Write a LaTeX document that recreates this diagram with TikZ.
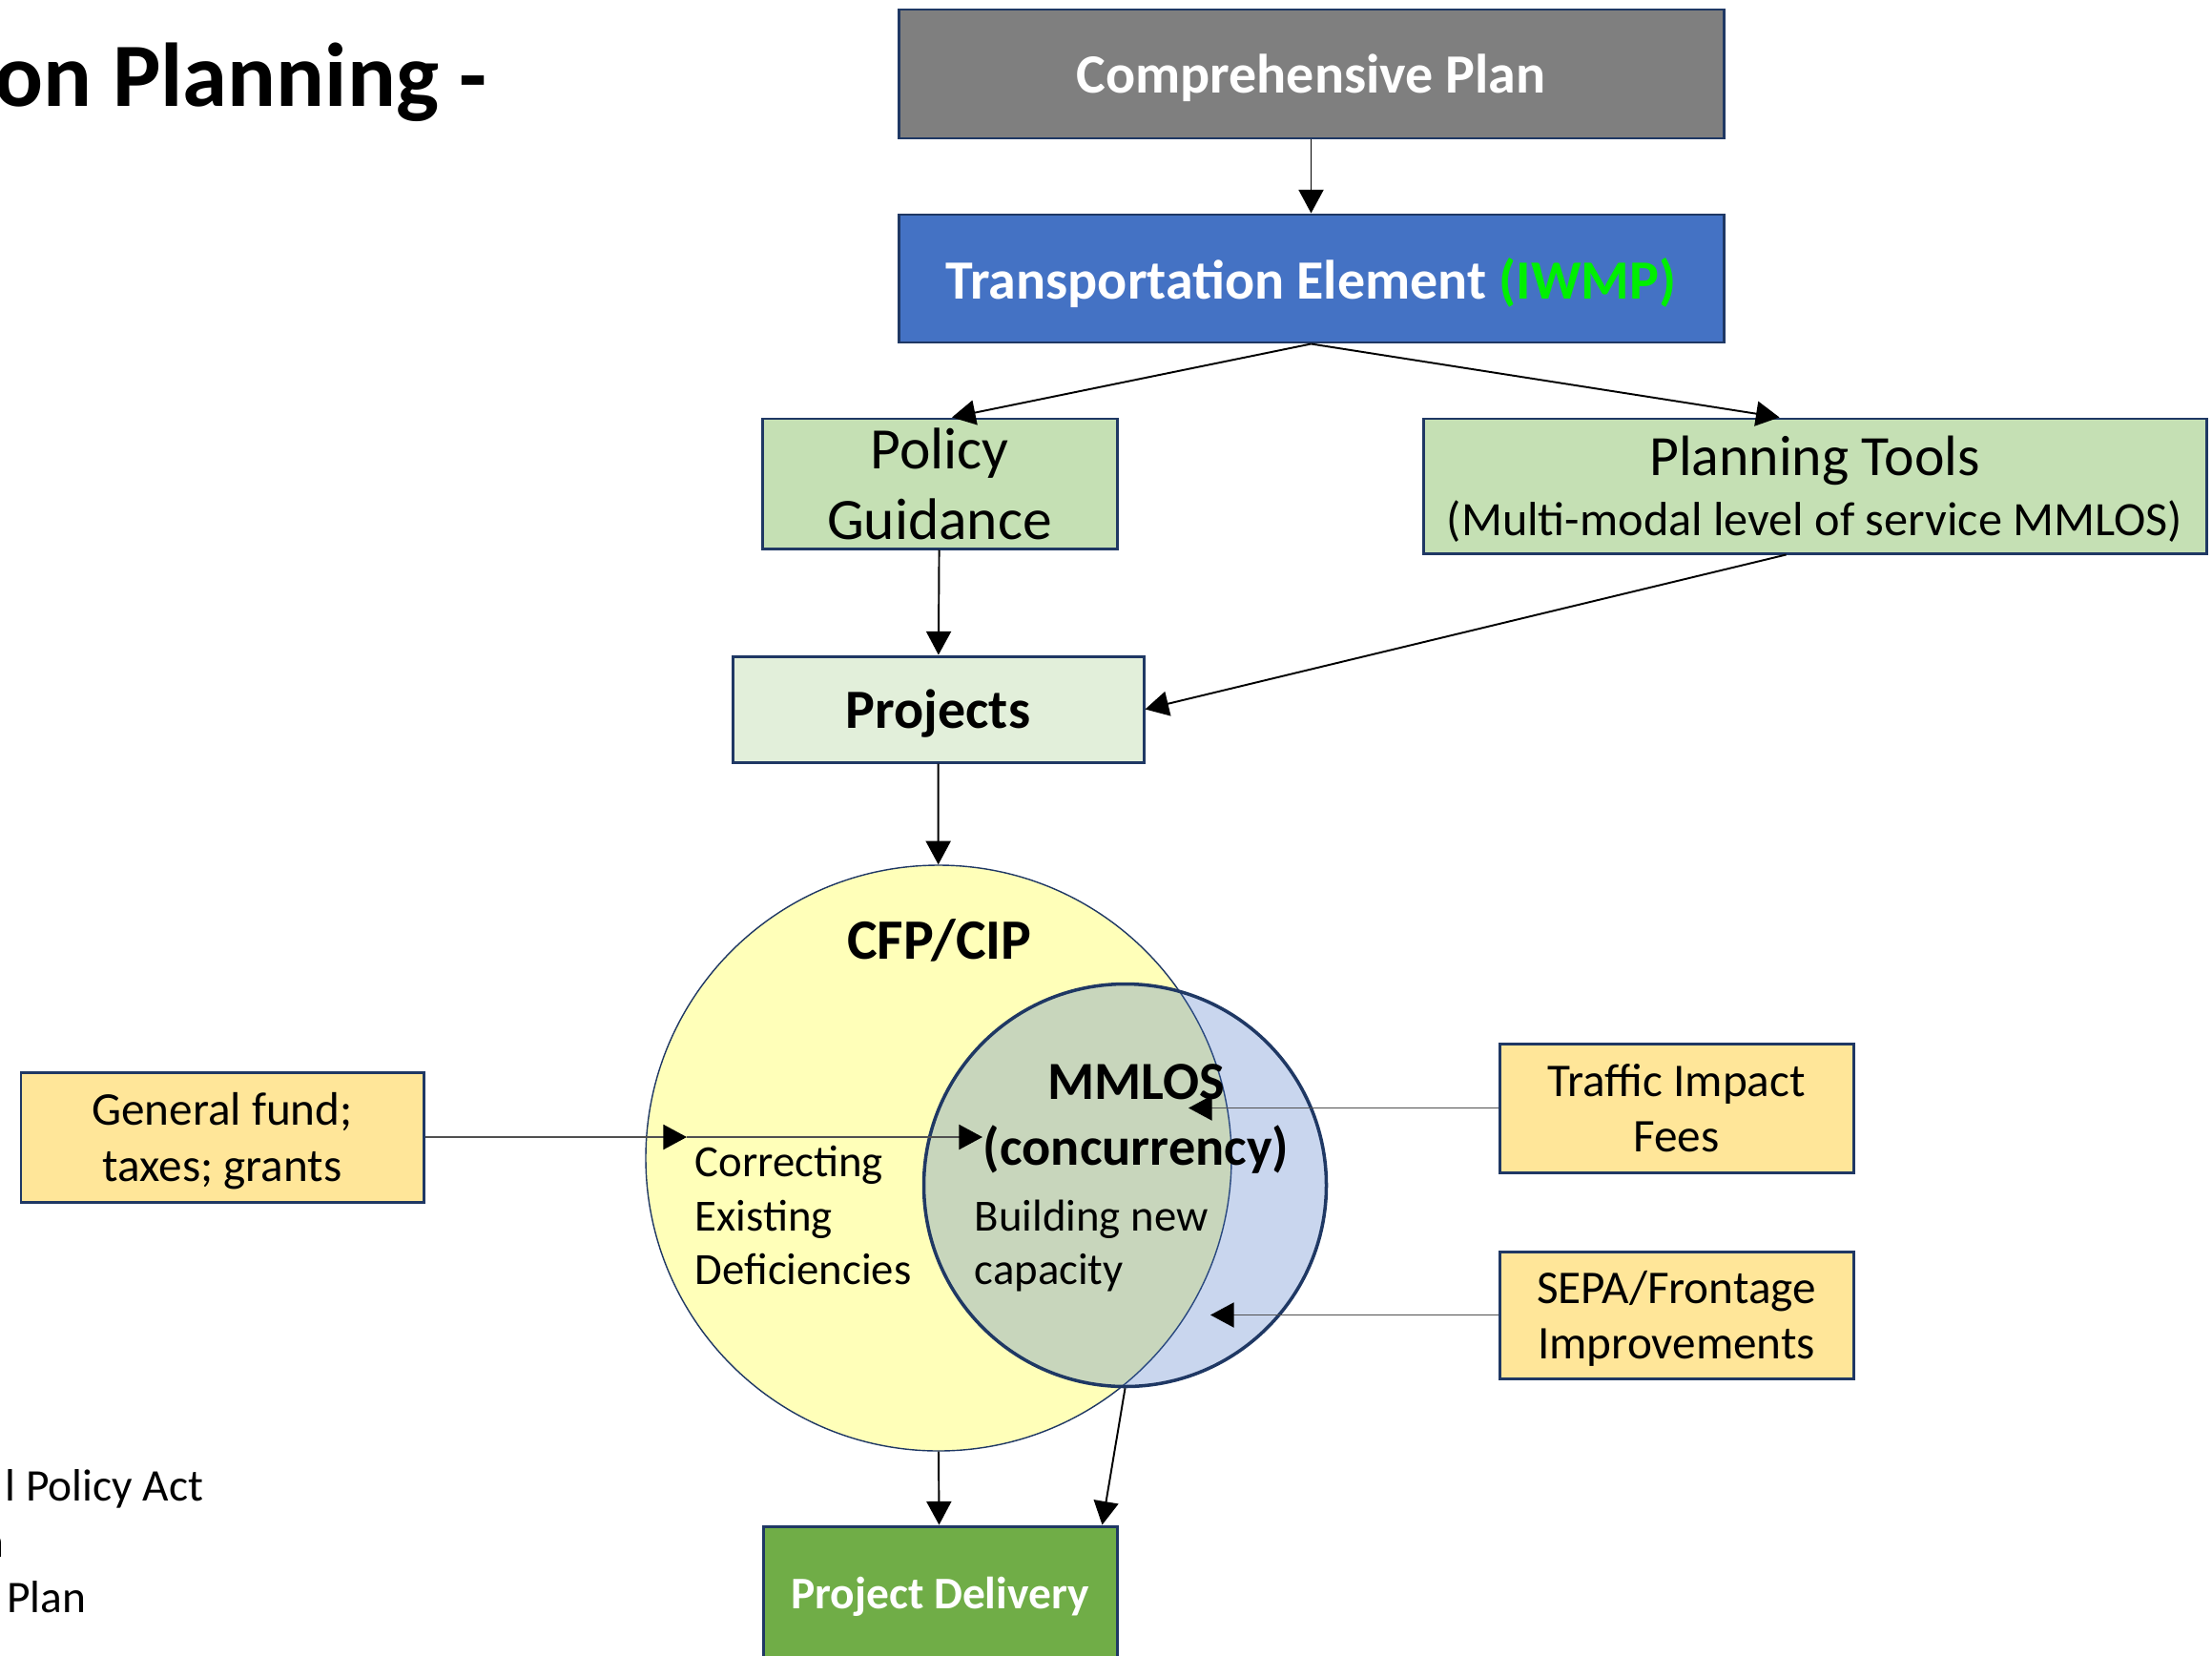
\documentclass[tikz,border=0pt]{standalone}
\usepackage{fontspec}
\setmainfont{Carlito}
\usetikzlibrary{arrows.meta, positioning}

\definecolor{navy}{RGB}{31,56,100}
\definecolor{planGray}{RGB}{127,127,127}
\definecolor{elemBlue}{RGB}{68,114,196}
\definecolor{iwmpGreen}{RGB}{0,240,0}
\definecolor{toolGreen}{RGB}{197,224,180}
\definecolor{projGreen}{RGB}{226,239,218}
\definecolor{fundGold}{RGB}{255,230,153}
\definecolor{cfpYellow}{RGB}{255,255,185}
\definecolor{delivGreen}{RGB}{112,173,71}
\definecolor{feedGray}{RGB}{80,80,80}

\newcommand{\sized}[2]{\fontsize{#1}{#2}\selectfont}

\tikzset{
  box/.style={draw=navy, line width=0.85pt, inner sep=0pt, align=center},
  label/.style={inner sep=0pt},
  link/.style={-{Triangle[length=7pt,width=7.4pt]}, line width=0.55pt, black},
  feed/.style={-{Triangle[length=7pt,width=7.4pt,color=black]}, line width=0.55pt, feedGray},
}

\begin{document}
\begin{tikzpicture}
\useasboundingbox (0,0) rectangle (23.19,-17.35);

% The title and the notes on the left
\node [label, anchor=base east, font=\sized{27pt}{32pt}\bfseries] (title) at (5.11,-1.12) {on Planning -};
\node [label, anchor=base east, font=\sized{13.5pt}{16pt}] (noteA) at (2.14,-15.73) {l Policy Act};
\node [label, anchor=base east, font=\sized{13.5pt}{16pt}] (noteB) at (0.05,-16.32) {n};
\node [label, anchor=base east, font=\sized{13.5pt}{16pt}] (noteC) at (0.91,-16.90) {Plan};

% The plan chain
\node [box, fill=planGray, text=white, text depth=0pt, minimum width=8.65cm, minimum height=1.35cm,
       font=\sized{16.5pt}{20pt}\bfseries] (cplan) at (13.745,-0.775) {Comprehensive Plan};
\node [box, fill=elemBlue, text=white, text depth=0pt, minimum width=8.65cm, minimum height=1.34cm,
       font=\sized{16.5pt}{20pt}\bfseries] (telem) at (13.745,-2.92) {Transportation Element \textcolor{iwmpGreen}{(IWMP)}};
\node [box, fill=toolGreen, minimum width=3.72cm, minimum height=1.36cm,
       font=\sized{17.5pt}{21pt}] (policy) at (9.85,-5.07) {Policy\\Guidance};
\node [box, fill=toolGreen, text depth=0pt, minimum width=8.21cm, minimum height=1.41cm,
       font=\sized{17pt}{20pt}] (tools) at (19.025,-5.095) {Planning Tools\\[-2pt]{\sized{14.3pt}{17pt}(Multi-modal level of service MMLOS)}};
\node [box, fill=projGreen, text depth=0pt, minimum width=4.31cm, minimum height=1.11cm,
       font=\sized{16.5pt}{20pt}\bfseries] (projects) at (9.835,-7.435) {Projects};

% The two funds
\node [circle, draw=navy, line width=0.4pt, fill=cfpYellow, minimum size=6.14cm, inner sep=0pt] (cfp) at (9.84,-12.14) {};
\node [circle, draw=navy, line width=1pt, fill=elemBlue, fill opacity=0.29, minimum size=4.22cm, inner sep=0pt] (mmlos) at (11.795,-12.425) {};

\node [label, anchor=base, font=\sized{17pt}{20pt}\bfseries] (cfplabel) at (9.85,-10.05) {CFP/CIP};
\node [label, align=center, font=\sized{16pt}{19.5pt}\bfseries] (mmloslabel) at (11.91,-11.73) {MMLOS\\(concurrency)};
\node [label, anchor=west, align=left, font=\sized{13.3pt}{16.2pt}] (correcting) at (7.28,-12.74) {Correcting\\Existing\\Deficiencies};
\node [label, anchor=west, align=left, font=\sized{13.3pt}{16.2pt}] (building) at (10.21,-13.06) {Building new\\capacity};

% Sources of money
\node [box, fill=fundGold, text depth=0pt, minimum width=4.22cm, minimum height=1.36cm,
       font=\sized{14pt}{17pt}] (fund) at (2.33,-11.92) {General fund;\\taxes; grants};
\node [box, fill=fundGold, minimum width=3.71cm, minimum height=1.35cm,
       font=\sized{14pt}{16.4pt}] (fees) at (17.575,-11.615) {Traffic Impact\\Fees};
\node [box, fill=fundGold, text depth=0pt, minimum width=3.71cm, minimum height=1.33cm,
       font=\sized{14pt}{16.4pt}] (sepa) at (17.575,-13.785) {SEPA/Frontage\\Improvements};

\node [box, fill=delivGreen, text=white, text depth=0pt, minimum width=3.71cm, minimum height=1.40cm,
       font=\sized{13.5pt}{16pt}\bfseries] (delivery) at (9.855,-16.70) {Project Delivery};

% Links
\draw [link] (cplan) -- (telem);
\draw [link] (telem.south) -- ([xshift=0.13cm]policy.north);
\draw [link] (telem.south) -- ([xshift=-0.37cm]tools.north);
\draw [link] (policy) -- (projects);
\draw [link] ([xshift=-0.30cm]tools.south) -- (projects.east);
\draw [link] (projects) -- (cfp);
\draw [link] (cfp.south) -- ([xshift=-0.01cm]delivery.north);
\draw [link] (mmlos.south) -- ([xshift=1.70cm]delivery.north);

% Money in
\coordinate (fundtip) at (7.20,-11.92);
\coordinate (fundend) at (10.30,-11.92);
\coordinate (feestip) at (12.46,-11.615);
\coordinate (sepatip) at (12.69,-13.785);
\draw [feed] (fund.east) -- (fundtip);
\draw [feed] (fundtip) -- (fundend);
\draw [feed] (fees.west) -- (feestip);
\draw [feed] (sepa.west) -- (sepatip);

\end{tikzpicture}
\end{document}
